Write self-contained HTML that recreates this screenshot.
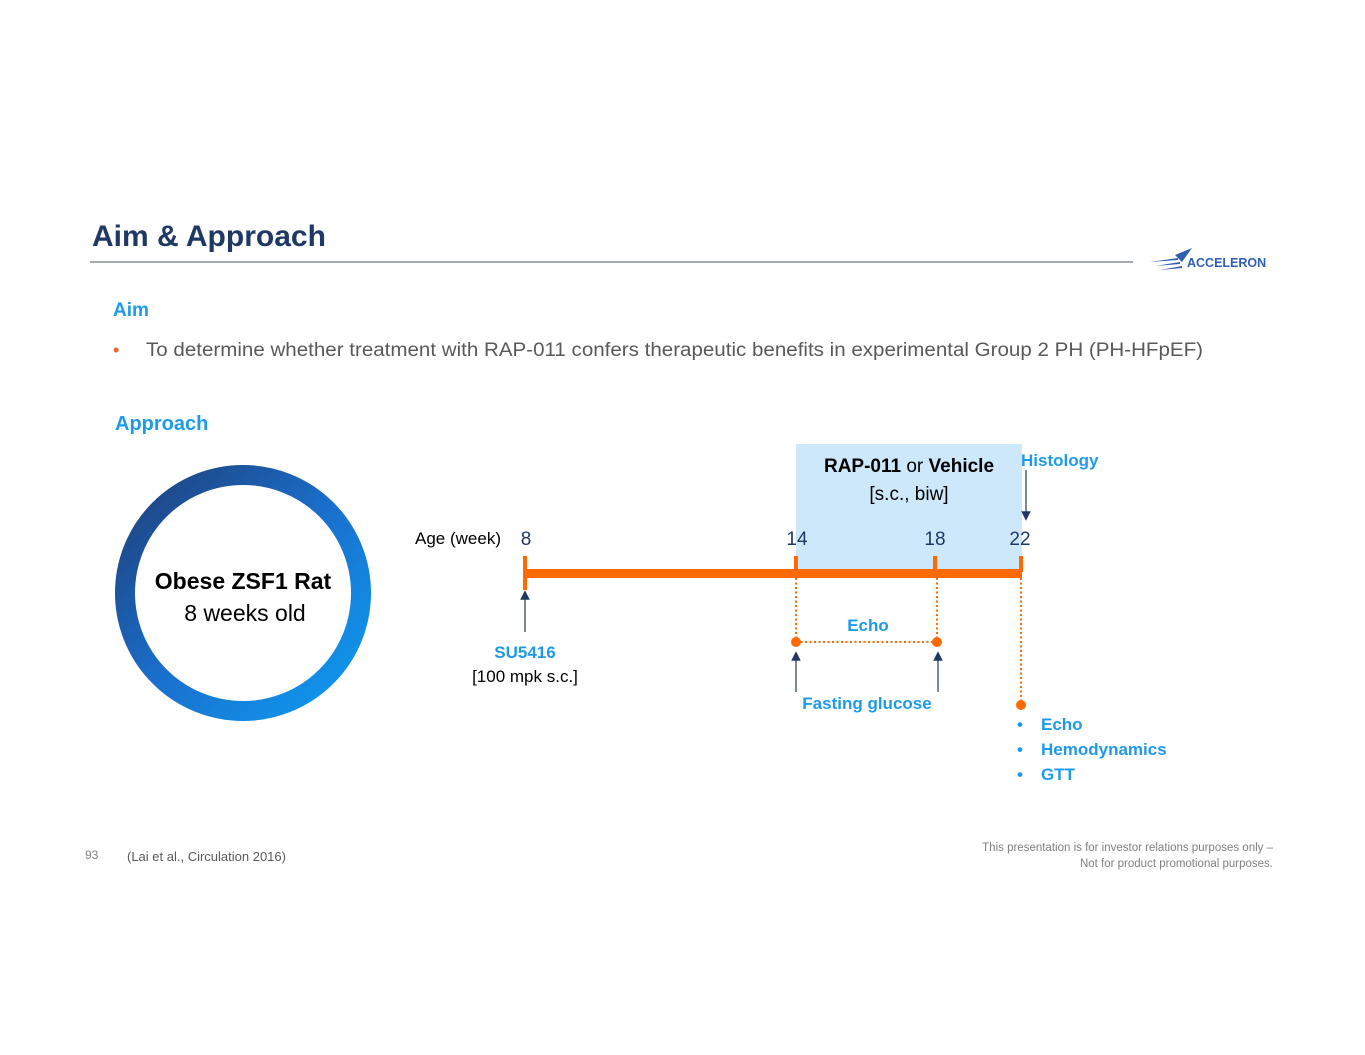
<!DOCTYPE html>
<html><head><meta charset="utf-8"><style>
body{margin:0;background:#fff;}
svg{display:block;font-family:"Liberation Sans",sans-serif;}
</style></head><body>
<svg width="1365" height="1055" viewBox="0 0 1365 1055" xmlns="http://www.w3.org/2000/svg">
<defs>
<linearGradient id="g" x1="0" y1="0" x2="1" y2="1">
<stop offset="0" stop-color="#1f3f78"/><stop offset="0.5" stop-color="#1a6fcc"/><stop offset="1" stop-color="#0e9cf2"/>
</linearGradient>
<marker id="a" markerWidth="8" markerHeight="8" refX="4" refY="4" orient="auto"><path d="M0,0 L8,4 L0,8z" fill="#1f3864"/></marker>
</defs>
<text x="92" y="246" font-size="30" font-weight="bold" fill="#1f3864">Aim &amp; Approach</text>
<line x1="90" y1="262" x2="1133" y2="262" stroke="#44546a" stroke-width="1"/>
<g fill="#2f5fb3">
<path d="M1150,262 L1178,258 L1178,260 Z"/><path d="M1155,266 L1180,262 L1180,264 Z"/><path d="M1160,270 L1182,266 L1182,268 Z"/>
<path d="M1175,255 L1192,248 L1182,262 Z"/>
</g>
<text x="1187" y="267" font-size="12.5" font-weight="bold" fill="#2f5fb3">ACCELERON</text>

<text x="113" y="316" font-size="19" font-weight="bold" fill="#1e9be8">Aim</text>
<text x="113" y="356" font-size="18" fill="#f26522">•</text>
<text x="146" y="356" font-size="19" fill="#595959" textLength="1057" lengthAdjust="spacingAndGlyphs">To determine whether treatment with RAP-011 confers therapeutic benefits in experimental Group 2 PH (PH-HFpEF)</text>
<text x="115" y="430" font-size="20" font-weight="bold" fill="#1e9be8">Approach</text>

<circle cx="243" cy="593" r="118" fill="none" stroke="url(#g)" stroke-width="20"/>
<text x="243" y="589" font-size="23" font-weight="bold" fill="#000" text-anchor="middle">Obese ZSF1 Rat</text>
<text x="245" y="621" font-size="23" fill="#000" text-anchor="middle">8 weeks old</text>

<rect x="796" y="444" width="226" height="129" fill="#cde8fb"/>
<text x="909" y="472" font-size="19" text-anchor="middle" fill="#000"><tspan font-weight="bold">RAP-011</tspan> or <tspan font-weight="bold">Vehicle</tspan></text>
<text x="909" y="500" font-size="19" text-anchor="middle" fill="#000">[s.c., biw]</text>
<text x="1021" y="466" font-size="17" font-weight="bold" fill="#1e9be8">Histology</text>
<line x1="1026" y1="470" x2="1026" y2="516" stroke="#1f3864" stroke-width="1.2" marker-end="url(#a)"/>

<text x="415" y="544" font-size="17" fill="#000">Age (week)</text>
<g font-size="19" fill="#1f3864" text-anchor="middle">
<text x="526" y="545">8</text><text x="797" y="545">14</text><text x="935" y="545">18</text><text x="1020" y="545">22</text>
</g>
<rect x="525" y="569" width="497" height="9" fill="#ff6a00"/>
<rect x="523" y="556" width="4" height="34" fill="#ff6a00"/>
<rect x="794" y="556" width="4" height="16" fill="#ff6a00"/>
<rect x="933" y="556" width="4" height="16" fill="#ff6a00"/>
<rect x="1019" y="556" width="4" height="16" fill="#ff6a00"/>

<g stroke="#ff6a00" stroke-width="2" stroke-dasharray="2,2.5" fill="none">
<line x1="796" y1="578" x2="796" y2="642"/><line x1="937" y1="578" x2="937" y2="642"/>
<line x1="796" y1="642" x2="937" y2="642"/><line x1="1021" y1="578" x2="1021" y2="704"/>
</g>
<g fill="#ff6a00"><circle cx="796" cy="642" r="5"/><circle cx="937" cy="642" r="5"/><circle cx="1021" cy="705" r="5"/></g>
<text x="868" y="631" font-size="17" font-weight="bold" fill="#1e9be8" text-anchor="middle">Echo</text>

<line x1="525" y1="632" x2="525" y2="595" stroke="#1f3864" stroke-width="1.2" marker-end="url(#a)"/>
<line x1="796" y1="692" x2="796" y2="656" stroke="#1f3864" stroke-width="1.2" marker-end="url(#a)"/>
<line x1="938" y1="692" x2="938" y2="656" stroke="#1f3864" stroke-width="1.2" marker-end="url(#a)"/>
<text x="525" y="658" font-size="17" font-weight="bold" fill="#1e9be8" text-anchor="middle">SU5416</text>
<text x="525" y="682" font-size="17" fill="#000" text-anchor="middle">[100 mpk s.c.]</text>
<text x="867" y="709" font-size="17" font-weight="bold" fill="#1e9be8" text-anchor="middle">Fasting glucose</text>

<g font-size="17" font-weight="bold" fill="#1e9be8">
<text x="1017" y="730">•</text><text x="1041" y="730">Echo</text>
<text x="1017" y="755">•</text><text x="1041" y="755">Hemodynamics</text>
<text x="1017" y="780">•</text><text x="1041" y="780">GTT</text>
</g>

<text x="85" y="859" font-size="12" fill="#7f7f7f">93</text>
<text x="127" y="861" font-size="13" fill="#595959">(Lai et al., Circulation 2016)</text>
<text x="1273" y="851" font-size="11.5" fill="#7f7f7f" text-anchor="end">This presentation is for investor relations purposes only –</text>
<text x="1273" y="867" font-size="11.5" fill="#7f7f7f" text-anchor="end">Not for product promotional purposes.</text>
</svg>
</body></html>
